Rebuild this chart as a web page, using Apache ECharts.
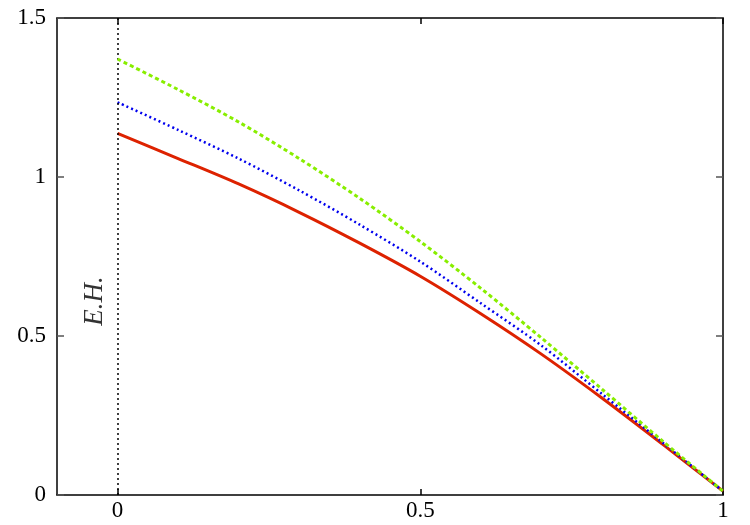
<!DOCTYPE html>
<html>
<head>
<meta charset="utf-8">
<script src="https://cdn.jsdelivr.net/npm/echarts@6/dist/echarts.min.js"></script>
<style>
  html, body { margin: 0; padding: 0; background: #fff; }
  #chart { width: 750px; height: 525px; }
</style>
</head>
<body>
<div id="chart"></div>
<script>
// curve data
const xs = [0, 0.1, 0.2, 0.3, 0.4, 0.5, 0.6, 0.7, 0.8, 0.9, 1.0];
const redVals = [1.137, 1.058, 0.978, 0.889, 0.792, 0.688, 0.570, 0.443, 0.305, 0.160, 0.012];
const blueVals = [1.235, 1.148, 1.058, 0.958, 0.850, 0.734, 0.603, 0.470, 0.318, 0.165, 0.012];
const greenVals = [1.371, 1.275, 1.173, 1.058, 0.933, 0.797, 0.650, 0.494, 0.333, 0.170, 0.012];
const xTicks = [0, 0.5, 1];
const ehLabel = "E.H.";
const ehPos = [-0.037, 0.61];

const pairs = (vals) => xs.map((x, i) => [x, vals[i]]);
const font = "'Liberation Serif', 'DejaVu Serif', serif";

const chart = echarts.init(document.getElementById("chart"));

const xBase = {
  type: "value",
  min: -0.1,
  max: 1,
  splitLine: { show: false },
  axisLine: { onZero: false, lineStyle: { color: "#000", width: 1.5 } },
  axisTick: { inside: true, length: 6, customValues: xTicks, lineStyle: { color: "#000", width: 1.5 } },
};
const yBase = {
  type: "value",
  min: 0,
  max: 1.5,
  interval: 0.5,
  splitLine: { show: false },
  axisLine: { onZero: false, lineStyle: { color: "#000", width: 1.5 } },
  axisTick: { inside: true, length: 7, lineStyle: { color: "#555", width: 1.5 } },
};

chart.setOption({
  animation: false,
  grid: { left: 57, right: 27, top: 18, bottom: 30 },
  xAxis: [
    Object.assign({}, xBase, {
      position: "bottom",
      axisLabel: {
        customValues: xTicks,
        color: "#000",
        fontFamily: font,
        fontSize: 23,
        margin: 4,
        formatter: (v) => String(v),
      },
    }),
    Object.assign({}, xBase, { position: "top", axisLabel: { show: false } }),
  ],
  yAxis: [
    Object.assign({}, yBase, {
      position: "left",
      axisLabel: {
        color: "#000",
        fontFamily: font,
        fontSize: 23,
        margin: 11,
        formatter: (v) => String(v),
      },
    }),
    Object.assign({}, yBase, { position: "right", axisLabel: { show: false } }),
  ],
  series: [
    {
      name: "red",
      type: "line",
      data: pairs(redVals),
      smooth: 0.3,
      showSymbol: false,
      lineStyle: { color: "#dd2200", width: 3 },
      z: 3,
      markLine: {
        silent: true,
        symbol: "none",
        label: { show: false },
        lineStyle: { color: "#000", width: 1.5, type: [2, 3] },
        data: [{ xAxis: 0 }],
      },
    },
    {
      name: "blue",
      type: "line",
      data: pairs(blueVals),
      smooth: 0.3,
      showSymbol: false,
      lineStyle: { color: "#0000ee", width: 2.5, type: [2, 3] },
      z: 4,
    },
    {
      name: "green",
      type: "line",
      data: pairs(greenVals),
      smooth: 0.3,
      showSymbol: false,
      lineStyle: { color: "#88ee00", width: 3, type: [4, 3] },
      z: 5,
    },
    {
      name: "label",
      type: "scatter",
      data: [ehPos],
      symbolSize: 0,
      silent: true,
      label: {
        show: true,
        position: "inside",
        rotate: 90,
        formatter: ehLabel,
        color: "#000",
        fontFamily: font,
        fontStyle: "italic",
        fontSize: 27,
      },
    },
  ],
});
</script>
</body>
</html>
